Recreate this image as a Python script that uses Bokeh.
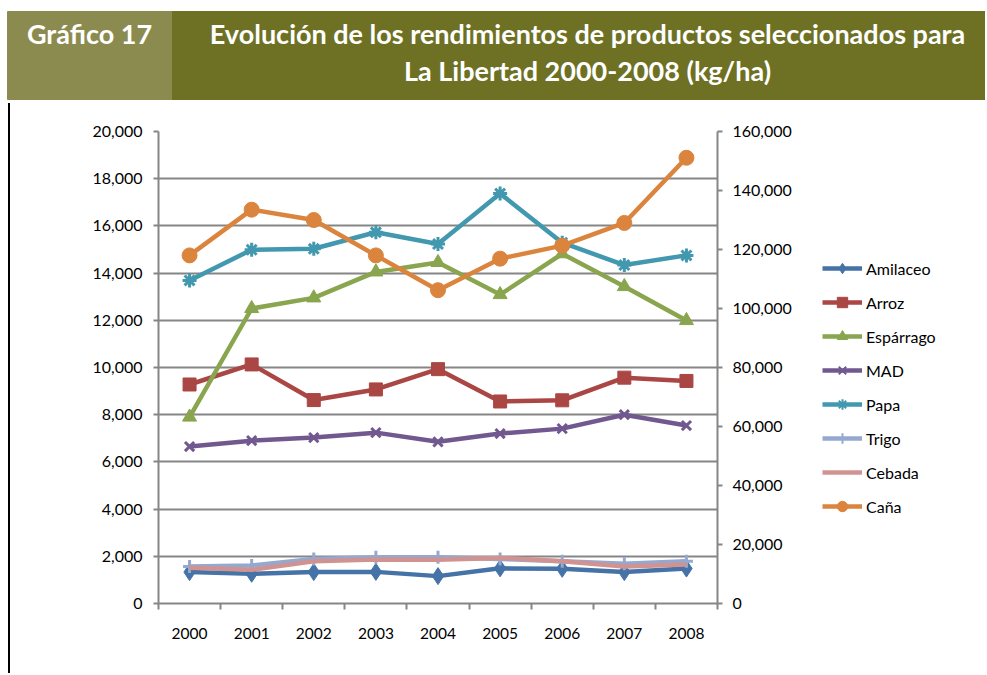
from bokeh.plotting import figure
from bokeh.models import (Range1d, LinearAxis, FixedTicker, NumeralTickFormatter,
                          Legend, LegendItem, Div)
from bokeh.layouts import column, row
from bokeh.core.properties import value
from bokeh.embed import file_html
from bokeh.resources import INLINE

years = ["2000", "2001", "2002", "2003", "2004", "2005", "2006", "2007", "2008"]
amilaceo = [1330, 1260, 1330, 1340, 1160, 1490, 1470, 1330, 1480]
arroz = [9280, 10130, 8620, 9070, 9930, 8560, 8610, 9570, 9430]
esparrago = [7900, 12500, 12950, 14050, 14450, 13090, 14820, 13430, 11990]
mad = [6650, 6900, 7030, 7240, 6850, 7200, 7410, 8000, 7540]
papa = [13690, 14990, 15030, 15730, 15230, 17370, 15290, 14340, 14750]
trigo = [1570, 1610, 1890, 1960, 1960, 1890, 1790, 1680, 1790]
cebada = [1510, 1430, 1790, 1860, 1850, 1930, 1790, 1570, 1650]
cana = [118000, 133500, 130000, 118000, 106200, 116900, 121300, 129000, 151100]

left_ticks = list(range(0, 20001, 2000))
right_ticks = list(range(0, 160001, 20000))

FONT = "Lato"
GRAY = "#868686"

# ---------------- header ----------------
W = 985
HH = 103
hdr = figure(width=W, height=HH, x_range=Range1d(0, W), y_range=Range1d(0, HH),
             x_axis_location=None, y_axis_location=None, toolbar_location=None,
             output_backend="svg", min_border=0)
hdr.outline_line_color = None
hdr.xgrid.visible = False
hdr.ygrid.visible = False
hdr.quad(left=[7], right=[172], bottom=[4], top=[92], color="#8C8B4F")
hdr.quad(left=[172], right=[W], bottom=[4], top=[92], color="#6E7124")
hdr.text(x=[89], y=[70], text=["Gráfico 17"], text_font=value(FONT),
         text_font_style="bold", text_font_size="27px", text_color="white",
         text_align="center", text_baseline="middle")
hdr.text(x=[587, 587], y=[70, 33],
         text=["Evolución de los rendimientos de productos seleccionados para",
               "La Libertad 2000-2008 (kg/ha)"],
         text_font=value(FONT), text_font_style="bold", text_font_size="27px",
         text_color="white", text_align="center", text_baseline="middle")

# ---------------- chart ----------------
CH = 570
CW = 800
p = figure(width=CW, height=CH, x_range=Range1d(0, 9), y_range=Range1d(0, 20000),
           toolbar_location=None, output_backend="svg",
           min_border_left=148, min_border_right=93, min_border_top=28,
           min_border_bottom=70)
p.outline_line_color = None
p.extra_y_ranges = {"y2": Range1d(0, 160000)}

xs = [i + 0.5 for i in range(len(years))]

# x axis
xa = p.xaxis[0]
xa.ticker = FixedTicker(ticks=xs, minor_ticks=list(range(0, 10)))
xa.major_label_overrides = {x: y for x, y in zip(xs, years)}
xa.major_tick_out = 0
xa.major_tick_in = 0
xa.minor_tick_out = 6
xa.minor_tick_in = 0
xa.minor_tick_line_color = GRAY
xa.minor_tick_line_width = 2
xa.axis_line_color = GRAY
xa.axis_line_width = 2
xa.major_label_standoff = 18
xa.major_label_text_font = FONT
xa.major_label_text_font_size = "15.5px"
xa.major_label_text_color = "black"
p.xgrid.visible = False

# left y axis
ya = p.yaxis[0]
ya.ticker = FixedTicker(ticks=left_ticks)
ya.formatter = NumeralTickFormatter(format="0,0")
ya.major_tick_out = 5
ya.major_tick_in = 0
ya.major_tick_line_color = GRAY
ya.major_tick_line_width = 2
ya.minor_tick_line_color = None
ya.axis_line_color = GRAY
ya.axis_line_width = 2
ya.major_label_standoff = 11
ya.major_label_text_font = FONT
ya.major_label_text_font_size = "16px"
ya.major_label_text_color = "black"
p.ygrid.ticker = FixedTicker(ticks=left_ticks)
p.ygrid.grid_line_color = GRAY
p.ygrid.grid_line_width = 2

# right y axis
ra = LinearAxis(y_range_name="y2", ticker=FixedTicker(ticks=right_ticks),
                formatter=NumeralTickFormatter(format="0,0"))
ra.major_tick_out = 5
ra.major_tick_in = 0
ra.major_tick_line_color = GRAY
ra.major_tick_line_width = 2
ra.minor_tick_line_color = None
ra.axis_line_color = GRAY
ra.axis_line_width = 2
ra.major_label_standoff = 10
ra.major_label_text_font = FONT
ra.major_label_text_font_size = "16px"
ra.major_label_text_color = "black"
p.add_layout(ra, "right")

LW = 4.5
series = [
    ("Amilaceo", amilaceo, "#4572A7", "diamond", 17, "default"),
    ("Arroz", arroz, "#AA4643", "square", 13, "default"),
    ("Espárrago", esparrago, "#89A54E", "triangle", 14, "default"),
    ("MAD", mad, "#71588F", "x", 13, "default"),
    ("Papa", papa, "#4198AF", "asterisk", 14, "default"),
    ("Trigo", trigo, "#93A9CF", "cross", 13, "default"),
    ("Cebada", cebada, "#D19392", None, 0, "default"),
    ("Caña", cana, "#DB843D", "circle", 15, "y2"),
]

# legend panel (separate figure to the right of the chart)
LWID = W - 10 - CW
lg = figure(width=LWID, height=CH, x_range=Range1d(0, 1), y_range=Range1d(0, 1),
            x_axis_location=None, y_axis_location=None, toolbar_location=None,
            output_backend="svg", min_border=0)
lg.outline_line_color = None
lg.xgrid.visible = False
lg.ygrid.visible = False

items = []
for name, vals, color, marker, size, rng in series:
    p.line(xs, vals, line_color=color, line_width=LW, y_range_name=rng,
           line_join="round")
    lw = 3 if marker in ("x", "asterisk", "cross") else 1
    if marker is not None:
        p.scatter(xs, vals, marker=marker, size=size, fill_color=color,
                  line_color=color, line_width=lw, y_range_name=rng)
    # legend proxies, placed outside the visible range of the legend panel
    rs = [lg.line([-5, -4], [-5, -4], line_color=color, line_width=LW)]
    if marker is not None:
        rs.append(lg.scatter([-5], [-5], marker=marker, size=size, fill_color=color,
                             line_color=color, line_width=2 if lw == 3 else 1))
    items.append(LegendItem(label=name, renderers=rs))

legend = Legend(items=items, location=(12, 84), glyph_width=40, glyph_height=26,
                label_height=26, spacing=8, padding=4, margin=0,
                label_text_font=FONT, label_text_font_size="16px",
                label_text_color="black", label_standoff=4,
                border_line_color=None, background_fill_alpha=0)
lg.add_layout(legend)

vline = Div(width=2, height=CH, margin=(0, 0, 0, 8),
            styles={"background-color": "black"})

layout = column(hdr, row(vline, p, lg, spacing=0), spacing=0)

open("out.html", "w").write(file_html(layout, INLINE))
